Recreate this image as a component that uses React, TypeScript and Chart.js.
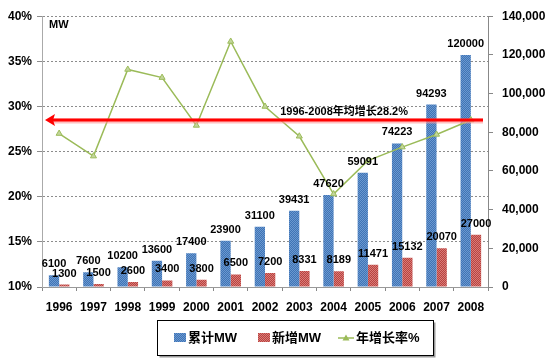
import React, { useEffect, useRef } from "react";
import { Chart, registerables } from "chart.js";

Chart.register(...registerables);

const years = ["1996", "1997", "1998", "1999", "2000", "2001", "2002", "2003", "2004", "2005", "2006", "2007", "2008"];
const cumulativeMW = [6100, 7600, 10200, 13600, 17400, 23900, 31100, 39431, 47620, 59091, 74223, 94293, 120000];
const addedMW = [1300, 1500, 2600, 3400, 3800, 6500, 7200, 8331, 8189, 11471, 15132, 20070, 27000];
const growthRate = [27.0, 24.5, 34.1, 33.2, 27.9, 37.2, 30.0, 26.7, 20.3, 24.0, 25.5, 26.9, 28.5];
const seriesNames = ["累计MW", "新增MW", "年增长率%"];
const avgLevel = 28.5;
const avgLabel = "1996-2008年均增长28.2%";
const unitLabel = "MW";

const FONT = "'Liberation Sans', Arial, 'Noto Sans CJK SC', sans-serif";

function makePattern(a: string, b: string): CanvasPattern | string {
  const c = document.createElement("canvas");
  c.width = 2;
  c.height = 2;
  const g = c.getContext("2d");
  if (!g) return a;
  g.fillStyle = a;
  g.fillRect(0, 0, 2, 2);
  g.fillStyle = b;
  g.fillRect(0, 0, 1, 1);
  g.fillRect(1, 1, 1, 1);
  const ctx = document.createElement("canvas").getContext("2d");
  return (ctx && ctx.createPattern(c, "repeat")) || a;
}

export default function App() {
  const ref = useRef<HTMLCanvasElement>(null);

  useEffect(() => {
    if (!ref.current) return;
    const bluePat = makePattern("#3f74b5", "#6b98d0");
    const redPat = makePattern("#b8433f", "#d97b78");

    const labelsPlugin = {
      id: "customDraw",
      afterDatasetsDraw(chart: any) {
        const ctx = chart.ctx;
        const area = chart.chartArea;
        const ys = chart.scales.y;
        const xs = chart.scales.x;
        ctx.save();
        // avg arrow
        const ay = ys.getPixelForValue(avgLevel);
        const x0 = area.left + 3;
        const x1 = area.right - 5;
        ctx.strokeStyle = "rgba(255,150,150,0.6)";
        ctx.lineWidth = 5;
        ctx.beginPath();
        ctx.moveTo(x0 + 8, ay + 1);
        ctx.lineTo(x1, ay + 1);
        ctx.stroke();
        ctx.strokeStyle = "#ff0000";
        ctx.lineWidth = 3;
        ctx.beginPath();
        ctx.moveTo(x0 + 6, ay);
        ctx.lineTo(x1, ay);
        ctx.stroke();
        ctx.fillStyle = "#ff0000";
        ctx.beginPath();
        ctx.moveTo(x0, ay);
        ctx.lineTo(x0 + 10, ay - 6);
        ctx.lineTo(x0 + 8, ay);
        ctx.lineTo(x0 + 10, ay + 6);
        ctx.closePath();
        ctx.fill();
        // avg label
        ctx.fillStyle = "#000";
        ctx.font = "bold 11px " + FONT;
        ctx.textAlign = "left";
        ctx.textBaseline = "middle";
        const lx = (xs.getPixelForValue(6) + xs.getPixelForValue(7)) / 2 - 2;
        ctx.fillText(avgLabel, lx, ay - 8);
        // unit label
        ctx.fillText(unitLabel, area.left + 7, area.top + 9);
        // bar labels
        ctx.textAlign = "center";
        [0, 1].forEach((di) => {
          const meta = chart.getDatasetMeta(di);
          const data = chart.data.datasets[di].data;
          meta.data.forEach((el: any, i: number) => {
            ctx.fillText(String(data[i]), el.x, el.y - 11);
          });
        });
        ctx.restore();
      },
      afterDraw(chart: any) {
        const ctx = chart.ctx;
        ctx.save();
        const bx = 157.5, by = 320.5, bw = 276, bh = 35;
        ctx.fillStyle = "#9a9a9a";
        ctx.fillRect(bx + 2, by + 2, bw, bh);
        ctx.fillStyle = "#fff";
        ctx.fillRect(bx, by, bw, bh);
        ctx.strokeStyle = "#000";
        ctx.lineWidth = 1;
        ctx.strokeRect(bx, by, bw, bh);
        const cy = by + bh / 2;
        ctx.font = "bold 13px " + FONT;
        ctx.textAlign = "left";
        ctx.textBaseline = "middle";
        ctx.fillStyle = bluePat as any;
        ctx.fillRect(174, cy - 5, 12, 9);
        ctx.fillStyle = "#000";
        ctx.fillText(seriesNames[0], 188, cy);
        ctx.fillStyle = redPat as any;
        ctx.fillRect(258, cy - 5, 12, 9);
        ctx.fillStyle = "#000";
        ctx.fillText(seriesNames[1], 272, cy);
        ctx.strokeStyle = "#9BBB59";
        ctx.lineWidth = 1.5;
        ctx.beginPath();
        ctx.moveTo(338, cy);
        ctx.lineTo(354, cy);
        ctx.stroke();
        ctx.fillStyle = "#9BBB59";
        ctx.beginPath();
        ctx.moveTo(346, cy - 3.5);
        ctx.lineTo(349.5, cy + 2.5);
        ctx.lineTo(342.5, cy + 2.5);
        ctx.closePath();
        ctx.fill();
        ctx.fillStyle = "#000";
        ctx.fillText(seriesNames[2], 356, cy);
        ctx.restore();
      },
    };

    const chart = new Chart(ref.current, {
      data: {
        labels: years,
        datasets: [
          {
            type: "bar",
            label: seriesNames[0],
            data: cumulativeMW,
            yAxisID: "y1",
            backgroundColor: bluePat as any,
            borderWidth: 0,
            barPercentage: 1,
            categoryPercentage: 0.6,
            order: 2,
          },
          {
            type: "bar",
            label: seriesNames[1],
            data: addedMW,
            yAxisID: "y1",
            backgroundColor: redPat as any,
            borderWidth: 0,
            barPercentage: 1,
            categoryPercentage: 0.6,
            order: 2,
          },
          {
            type: "line",
            label: seriesNames[2],
            data: growthRate,
            yAxisID: "y",
            borderColor: "#9BBB59",
            borderWidth: 1.5,
            backgroundColor: "#9BBB59",
            pointStyle: "triangle",
            pointRadius: 3.5,
            pointBorderWidth: 1,
            pointBorderColor: "#9BBB59",
            pointBackgroundColor: "#c3d69b",
            tension: 0,
            order: 1,
          },
        ] as any,
      },
      options: {
        animation: false,
        responsive: false,
        layout: { padding: { top: 8, left: 0, right: 0, bottom: 0 } },
        plugins: { legend: { display: false }, tooltip: { enabled: false } },
        scales: {
          x: {
            offset: true,
            grid: {
              offset: true,
              drawOnChartArea: false,
              drawTicks: true,
              tickLength: 4,
              color: "#888",
            },
            border: { display: true, color: "#999" },
            ticks: {
              color: "#000",
              font: { family: FONT, size: 12, weight: "bold" },
              padding: 9,
              maxRotation: 0,
            },
            afterFit(s: any) {
              s.height = 74;
            },
          },
          y: {
            position: "left",
            min: 10,
            max: 40,
            ticks: {
              stepSize: 5,
              color: "#000",
              font: { family: FONT, size: 12, weight: "bold" },
              padding: 5,
              callback: (v: any) => v + "%",
            },
            grid: {
              color: "#8c8c8c",
              borderDash: [2, 1],
              tickLength: 5,
            } as any,
            border: { display: true, color: "#aaa", dash: [2, 2] },
            afterFit(s: any) {
              s.width = 42;
            },
          },
          y1: {
            position: "right",
            min: 0,
            max: 140000,
            ticks: {
              stepSize: 20000,
              color: "#000",
              font: { family: FONT, size: 12, weight: "bold" },
              padding: 9,
              callback: (v: any) => Number(v).toLocaleString("en-US"),
            },
            grid: {
              drawOnChartArea: false,
              tickLength: 5,
              color: "#888",
            },
            border: { display: true, color: "#888" },
            afterFit(s: any) {
              s.width = 65;
            },
          },
        },
      } as any,
      plugins: [labelsPlugin],
    });
    return () => chart.destroy();
  }, []);

  return (
    <div style={{ position: "fixed", left: 0, top: 0, width: 553, height: 361, background: "#fff" }}>
      <canvas ref={ref} width={553} height={361} />
    </div>
  );
}
